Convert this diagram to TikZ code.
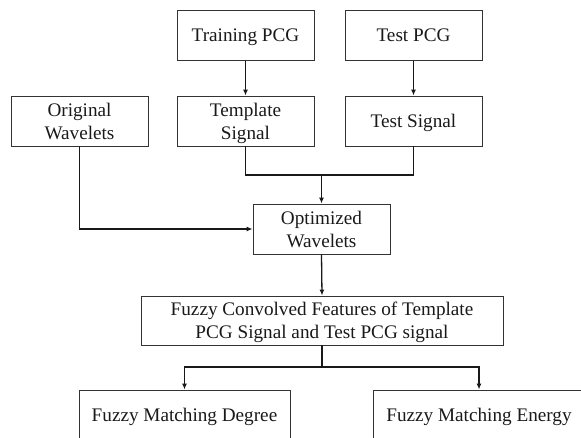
\documentclass[tikz,border=0pt]{standalone}
\usepackage{fontspec}
\setmainfont{Liberation Serif}
\usetikzlibrary{arrows.meta}
\tikzset{
  box/.style={draw=black!80, line width=0.9pt, rectangle, inner sep=0pt,
    minimum width=137pt, minimum height=50pt, align=center, text depth=0pt,
    text=black!90, font=\fontsize{19.2pt}{22.7pt}\selectfont},
  conn/.style={line width=1.3pt, black!90},
  arr/.style={conn, -{Latex[length=6pt,width=5pt]}}
}
\begin{document}
\begin{tikzpicture}[x=1pt,y=-1pt]
\useasboundingbox (0,0) rectangle (581,438);
\clip (0,0) rectangle (581,438);
\node[box] (train) at (245.5,35.5) {Training PCG};
\node[box] (tpcg) at (413.5,35.5) {Test PCG};
\node[box] (orig) at (79.5,121) {Original\\Wavelets};
\node[box] (tmpl) at (245.5,121) {Template\\Signal};
\node[box] (tsig) at (413.5,121) {Test Signal};
\node[box] (opt) at (321.5,229) {Optimized\\Wavelets};
\node[box, minimum width=362pt, minimum height=49pt] (conv) at (322,320.5) {Fuzzy Convolved Features of Template\\PCG Signal and Test PCG signal};
\node[box, minimum width=211pt] (deg) at (184.5,415) {Fuzzy Matching Degree};
\node[box, minimum width=212pt] (ene) at (479,415) {Fuzzy Matching Energy};
\coordinate (join) at (321.5,175);
\coordinate (split) at (322,367);
\draw[arr] (train.south) -- (tmpl.north);
\draw[arr] (tpcg.south) -- (tsig.north);
\draw[conn] (tmpl.south) |- (join) -| (tsig.south);
\draw[arr] (join) -- (opt.north);
\draw[arr] (orig.south) |- (opt.west);
\draw[arr] (opt.south) -- (conv.north);
\draw[conn] (conv.south) -- (split);
\draw[arr] (split) -| (deg.north);
\draw[arr] (split) -| (ene.north);
\end{tikzpicture}
\end{document}
